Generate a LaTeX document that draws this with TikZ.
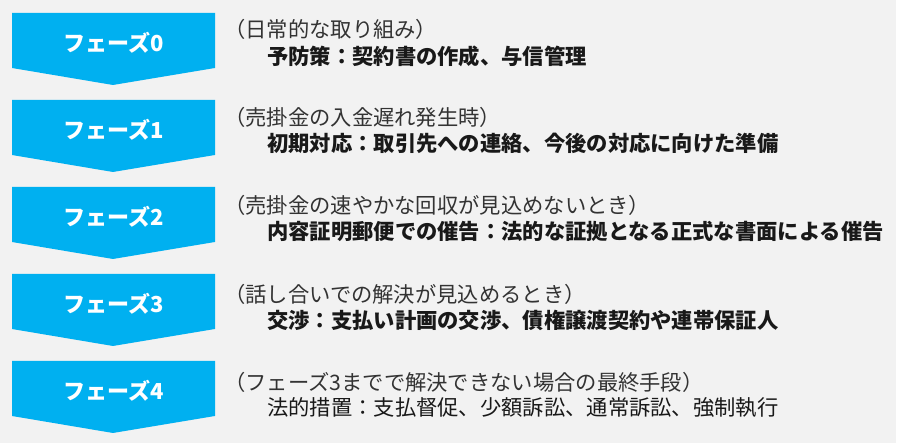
\documentclass[tikz,border=0pt]{standalone}
\usepackage{fontspec}
\setmainfont{Noto Sans CJK JP}
\definecolor{phaseblue}{RGB}{0,176,240}
\definecolor{bggray}{RGB}{242,242,242}

\begin{document}
\begin{tikzpicture}[x=1pt, y=-1pt,
	phaselabel/.style={text=white, inner sep=0pt, font=\fontsize{22}{26}\selectfont\bfseries},
	casetext/.style={anchor=west, inner sep=0pt, text=black!80, font=\fontsize{21.3}{25}\selectfont},
	steptext/.style={anchor=west, inner sep=0pt, text=black!90, font=\fontsize{21.3}{25}\selectfont\bfseries},
	plaintext/.style={anchor=west, inner sep=0pt, text=black!90, font=\fontsize{21.3}{25}\selectfont}]
	\useasboundingbox (0,0) rectangle (900,443);
	\fill[white] (0,0) rectangle (900,443);
	\fill[bggray] (0,0) rectangle (896,443);
	% The blue chevrons on the left side
	\fill[phaseblue] (12,13) -- (215,13) -- (215,68) -- (113,85) -- (12,68) -- cycle;
	\fill[phaseblue] (12,100) -- (215,100) -- (215,155) -- (113,172) -- (12,155) -- cycle;
	\fill[phaseblue] (12,187) -- (215,187) -- (215,242) -- (113,259) -- (12,242) -- cycle;
	\fill[phaseblue] (12,274) -- (215,274) -- (215,329) -- (113,346) -- (12,329) -- cycle;
	\fill[phaseblue] (12,361) -- (215,361) -- (215,416) -- (113,433) -- (12,416) -- cycle;
	\node[phaselabel] (p0) at (114,43) {フェーズ0};
	\node[phaselabel] (p1) at (114,130) {フェーズ1};
	\node[phaselabel] (p2) at (114,217) {フェーズ2};
	\node[phaselabel] (p3) at (114,304) {フェーズ3};
	\node[phaselabel] (p4) at (114,391) {フェーズ4};
	% Label
	\node[casetext] (c0) at (224,29) {（日常的な取り組み）};
	\node[steptext] (s0) at (267,56) {予防策：契約書の作成、与信管理};
	\node[casetext] (c1) at (224,117) {（売掛金の入金遅れ発生時）};
	\node[steptext] (s1) at (267,143) {初期対応：取引先への連絡、今後の対応に向けた準備};
	\node[casetext] (c2) at (224,205) {（売掛金の速やかな回収が見込めないとき）};
	\node[steptext] (s2) at (267,231) {内容証明郵便での催告：法的な証拠となる正式な書面による催告};
	\node[casetext] (c3) at (224,294) {（話し合いでの解決が見込めるとき）};
	\node[steptext] (s3) at (267,320) {交渉：支払い計画の交渉、債権譲渡契約や連帯保証人};
	\node[casetext] (c4) at (224,382) {（フェーズ3までで解決できない場合の最終手段）};
	\node[plaintext] (s4) at (267,408) {法的措置：支払督促、少額訴訟、通常訴訟、強制執行};
\end{tikzpicture}
\end{document}
